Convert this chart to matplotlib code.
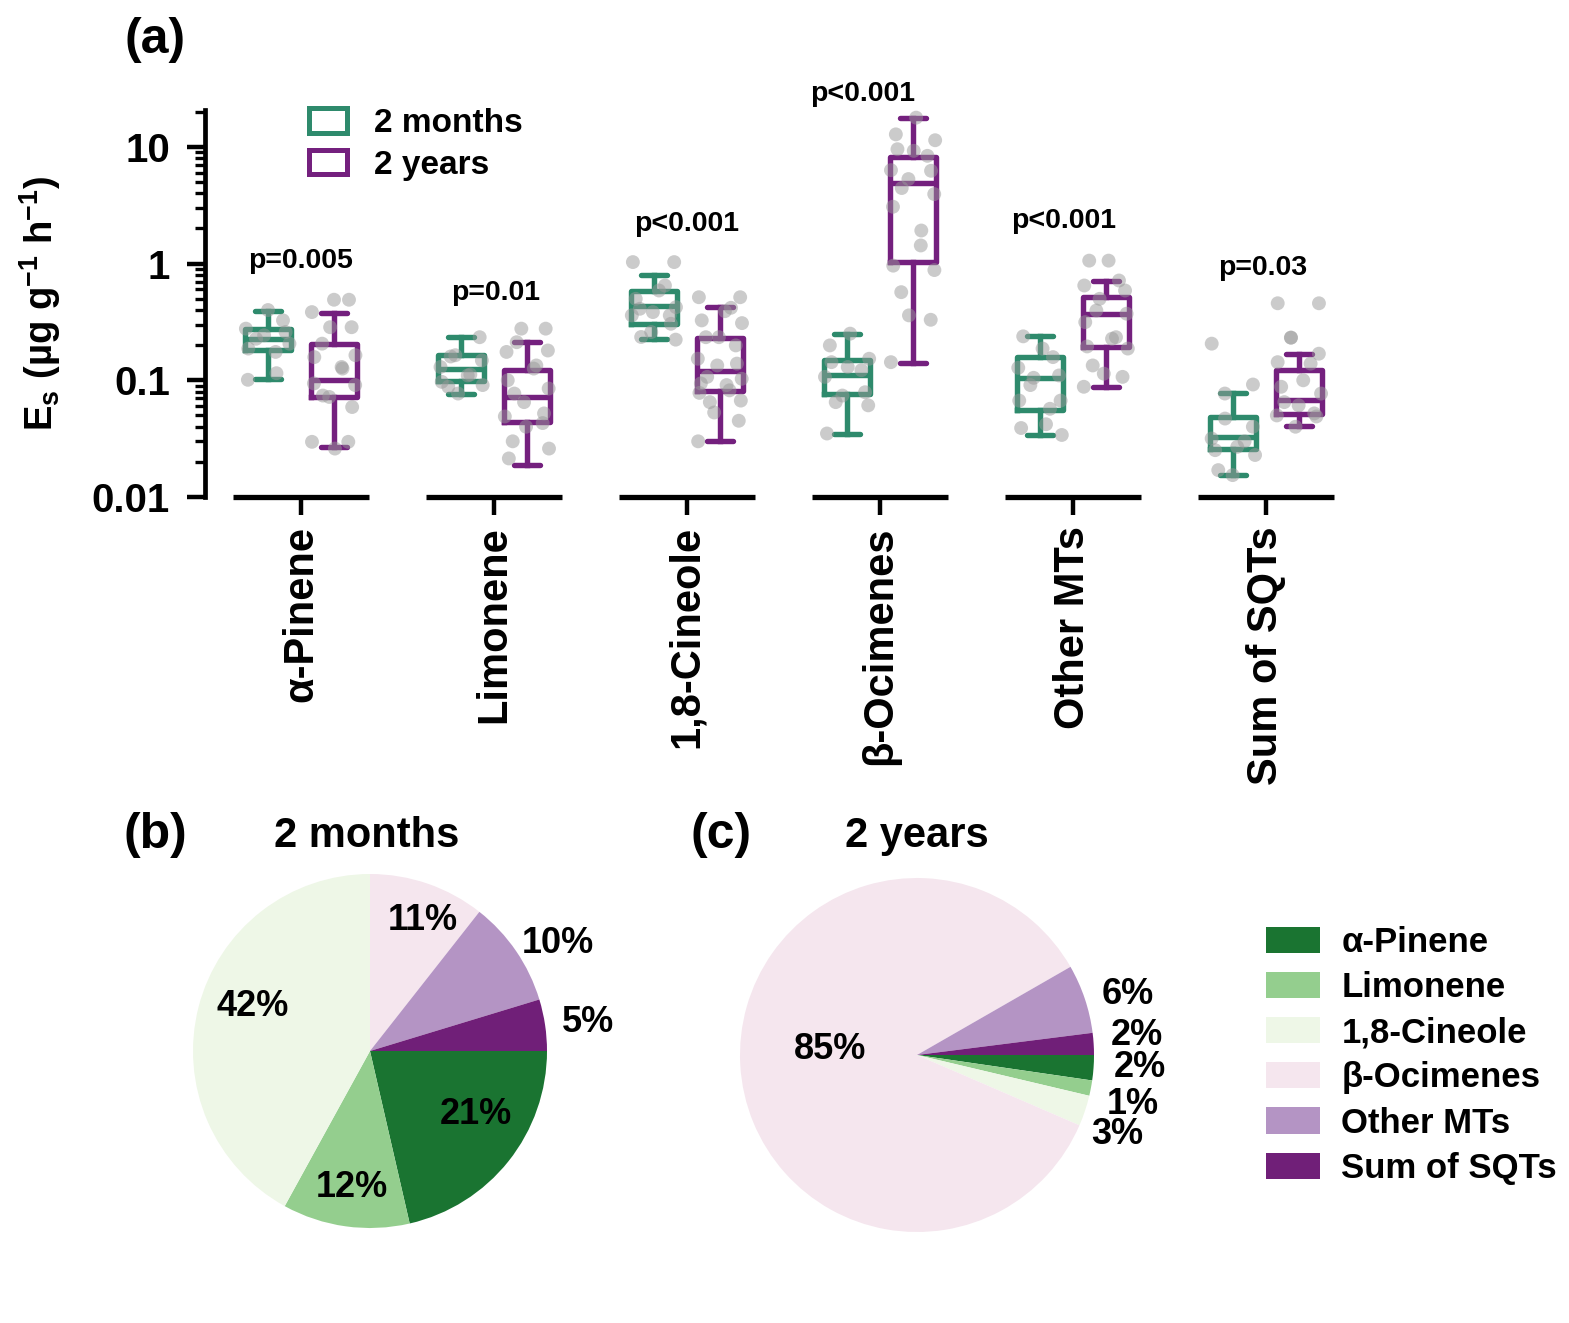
import numpy as np
import matplotlib
matplotlib.use("Agg")
import matplotlib.pyplot as plt
from matplotlib.patches import Patch

plt.rcParams['font.family'] = ['Liberation Sans', 'DejaVu Sans']
plt.rcParams['font.weight'] = 'bold'
plt.rcParams['mathtext.fontset'] = 'custom'
plt.rcParams['mathtext.rm'] = 'Liberation Sans:bold'
plt.rcParams['mathtext.bf'] = 'Liberation Sans:bold'
plt.rcParams['mathtext.it'] = 'Liberation Sans:bold'
plt.rcParams['mathtext.default'] = 'bf'

# ---------------- data ----------------
categories = ["α-Pinene", "Limonene", "1,8-Cineole", "β-Ocimenes", "Other MTs", "Sum of SQTs"]
groups = ["2 months", "2 years"]
p_values = ["p=0.005", "p=0.01", "p<0.001", "p<0.001", "p<0.001", "p=0.03"]

# box statistics: (whisker low, q1, median, q3, whisker high)
stats_2months = [
    (0.103, 0.183, 0.227, 0.277, 0.39),
    (0.077, 0.099, 0.125, 0.164, 0.234),
    (0.227, 0.301, 0.43, 0.587, 0.805),
    (0.0345, 0.077, 0.112, 0.148, 0.247),
    (0.034, 0.0555, 0.105, 0.158, 0.238),
    (0.0154, 0.026, 0.0328, 0.0486, 0.078),
]
stats_2years = [
    (0.027, 0.072, 0.101, 0.203, 0.376),
    (0.0188, 0.044, 0.072, 0.123, 0.212),
    (0.0303, 0.081, 0.120, 0.232, 0.423),
    (0.142, 1.03, 4.95, 8.2, 17.8),
    (0.0877, 0.193, 0.372, 0.515, 0.716),
    (0.0405, 0.0519, 0.0675, 0.123, 0.167),
]

# individual observations (µg g-1 h-1)
pts_apinene_2m = [0.40, 0.326, 0.277, 0.259, 0.243, 0.227, 0.206, 0.187, 0.175, 0.115, 0.101]
pts_apinene_2y = [0.49, 0.49, 0.384, 0.285, 0.285, 0.206, 0.164, 0.158, 0.130, 0.126, 0.094,
                  0.091, 0.074, 0.072, 0.059, 0.0297, 0.0297, 0.026]
pts_limonene_2m = [0.234, 0.164, 0.160, 0.148, 0.130, 0.112, 0.110, 0.097, 0.091, 0.088, 0.077]
pts_limonene_2y = [0.277, 0.277, 0.212, 0.180, 0.175, 0.134, 0.126, 0.100, 0.085, 0.077, 0.065,
                   0.052, 0.049, 0.043, 0.040, 0.030, 0.026, 0.0214]
pts_cineole_2m = [1.03, 1.03, 0.649, 0.588, 0.499, 0.423, 0.410, 0.384, 0.36, 0.36, 0.305,
                  0.259, 0.235, 0.223]
pts_cineole_2y = [0.515, 0.515, 0.418, 0.391, 0.326, 0.309, 0.234, 0.234, 0.199, 0.153, 0.139,
                  0.134, 0.107, 0.103, 0.094, 0.091, 0.082, 0.078, 0.067, 0.065, 0.053, 0.045, 0.030]
pts_ocimene_2m = [0.251, 0.199, 0.153, 0.143, 0.130, 0.122, 0.107, 0.079, 0.074, 0.065, 0.061, 0.035]
pts_ocimene_2y = [17.8, 12.8, 11.4, 9.55, 9.25, 8.38, 6.32, 6.24, 5.30, 4.44, 3.94, 3.07, 1.92,
                  1.43, 0.96, 0.88, 0.569, 0.36, 0.33, 0.143]
pts_othermt_2m = [0.238, 0.187, 0.158, 0.128, 0.110, 0.105, 0.091, 0.067, 0.067, 0.057, 0.042,
                  0.039, 0.034]
pts_othermt_2y = [1.06, 1.06, 0.716, 0.649, 0.588, 0.499, 0.396, 0.372, 0.315, 0.234, 0.227,
                  0.195, 0.187, 0.134, 0.114, 0.107, 0.088]
pts_sqt_2m = [0.206, 0.092, 0.077, 0.047, 0.040, 0.0317, 0.030, 0.0269, 0.0252, 0.0229, 0.017, 0.0154]
pts_sqt_2y = [0.457, 0.457, 0.232, 0.232, 0.169, 0.143, 0.139, 0.100, 0.088, 0.077, 0.065, 0.061,
              0.052, 0.050, 0.049, 0.040]

points_2months = [pts_apinene_2m, pts_limonene_2m, pts_cineole_2m, pts_ocimene_2m, pts_othermt_2m, pts_sqt_2m]
points_2years = [pts_apinene_2y, pts_limonene_2y, pts_cineole_2y, pts_ocimene_2y, pts_othermt_2y, pts_sqt_2y]

# pie shares (%)
pie_2months = [21.4, 11.6, 42.0, 10.6, 9.7, 4.7]
pie_2years = [2.3, 1.4, 2.8, 85.2, 6.3, 2.0]
pie_labels_2months = ["21%", "12%", "42%", "11%", "10%", "5%"]
pie_labels_2years = ["2%", "1%", "3%", "85%", "6%", "2%"]

# ---------------- style ----------------
c_green = "#2E8A6C"
c_purple = "#74207E"
pie_colors = ["#1A7431", "#94CE8E", "#EEF7E7", "#F5E6EE", "#B494C4", "#701F78"]
W, H = 1569, 1323

fig = plt.figure(figsize=(W / 100, H / 100), dpi=100)

# ---------------- panel (a) ----------------
ax = fig.add_axes([204.5 / W, 1 - 497 / H, 1158 / W, 387 / H])
ax.set_yscale('log')
ax.set_ylim(0.01, 20.7)
ax.set_xlim(-0.5, len(categories) - 0.5)

x = np.arange(len(categories))
off = 0.171
bw = 0.24
lw = 3.9


def to_bxp(st):
    return [dict(whislo=s[0], q1=s[1], med=s[2], q3=s[3], whishi=s[4], fliers=[]) for s in st]


for st, pos, col in [(stats_2months, x - off, c_green), (stats_2years, x + off, c_purple)]:
    ax.bxp(to_bxp(st), positions=pos, widths=bw, capwidths=bw * 0.55, showfliers=False,
           boxprops=dict(color=col, linewidth=lw, solid_joinstyle='round'),
           whiskerprops=dict(color=col, linewidth=lw),
           capprops=dict(color=col, linewidth=lw, solid_capstyle='round'),
           medianprops=dict(color=col, linewidth=lw),
           manage_ticks=False, zorder=2)

for pts_list, sign in [(points_2months, -1), (points_2years, 1)]:
    for i, pts in enumerate(pts_list):
        n = len(pts)
        jit = 0.115 * np.sin(np.arange(n) * 2.39996 + i)
        ax.scatter(i + sign * off + jit, pts, s=100, color='#999999', alpha=0.5,
                   edgecolors='none', zorder=3)

# axes styling
for sp in ['top', 'right', 'bottom']:
    ax.spines[sp].set_visible(False)
ax.spines['left'].set_linewidth(3.4)
ax.tick_params(axis='y', which='major', length=13, width=3.2, labelsize=29, pad=12)
ax.tick_params(axis='y', which='minor', length=7, width=2.4)
ax.set_yticks([0.01, 0.1, 1, 10])
ax.set_yticklabels(["0.01", "0.1", "1", "10"])
for t in ax.get_yticklabels():
    t.set_fontweight('bold')
ax.set_xticks(x)
ax.set_xticklabels(categories, rotation=90, fontsize=30, fontweight='bold')
ax.tick_params(axis='x', length=13, width=3.2, pad=8)
for xi in x:
    ax.plot([xi - 0.35, xi + 0.35], [0.01, 0.01], color='black', lw=3.8,
            solid_capstyle='butt', clip_on=False, zorder=4)

ax.set_ylabel("E$_{s}$ (µg g$^{-1}$ h$^{-1}$)", fontsize=27.5, fontweight='bold')
ax.yaxis.set_label_coords(-0.122, 0.5)

p_dx = [0.0, 0.01, 0.0, -0.09, -0.05, -0.015]
p_y = [1.06, 0.555, 2.2, 28.4, 2.33, 0.925]
for i, (lab, dx, yv) in enumerate(zip(p_values, p_dx, p_y)):
    ax.text(i + dx, yv, lab, ha='center', va='center', fontsize=20.5, fontweight='bold', clip_on=False)

leg = ax.legend(handles=[Patch(facecolor='white', edgecolor=c_green, linewidth=3.6, joinstyle='round'),
                         Patch(facecolor='white', edgecolor=c_purple, linewidth=3.6, joinstyle='round')],
                labels=groups, loc='upper left', bbox_to_anchor=((309 - 204.5) / 1158, (497 - 108) / 387),
                frameon=False, fontsize=24, handlelength=1.15, handleheight=0.75,
                handletextpad=0.8, labelspacing=0.32, borderpad=0, borderaxespad=0)
for t in leg.get_texts():
    t.set_fontweight('bold')

fig.text(155 / W, 1 - 40 / H, "(a)", ha='center', va='center', fontsize=36, fontweight='bold')

# ---------------- pies ----------------
R = 177
pie_specs = [
    (370, 1051, pie_2months, pie_labels_2months,
     [(0.60, -0.36), (-0.10, -0.77), (-0.66, 0.25), (0.30, 0.74), (1.06, 0.61), (1.23, 0.16)]),
    (917, 1055, pie_2years, pie_labels_2years,
     [(1.26, -0.07), (1.22, -0.28), (1.13, -0.45), (-0.49, 0.03), (1.19, 0.34), (1.24, 0.11)]),
]
for cx, cy, vals, labs, lpos in pie_specs:
    pax = fig.add_axes([(cx - R) / W, 1 - (cy + R) / H, 2 * R / W, 2 * R / H])
    pax.pie(vals, colors=pie_colors, startangle=0, counterclock=False,
            wedgeprops=dict(linewidth=0))
    pax.set_xlim(-1, 1)
    pax.set_ylim(-1, 1)
    pax.set_aspect('equal')
    for lab, (lx, ly) in zip(labs, lpos):
        pax.text(lx, ly, lab, ha='center', va='center', fontsize=26, fontweight='bold', clip_on=False)

fig.text(155 / W, 1 - 835 / H, "(b)", ha='center', va='center', fontsize=36, fontweight='bold')
fig.text(367 / W, 1 - 836 / H, "2 months", ha='center', va='center', fontsize=30, fontweight='bold')
fig.text(721 / W, 1 - 835 / H, "(c)", ha='center', va='center', fontsize=36, fontweight='bold')
fig.text(917 / W, 1 - 836 / H, "2 years", ha='center', va='center', fontsize=30, fontweight='bold')

leg2 = fig.legend(handles=[Patch(facecolor=c, edgecolor='none') for c in pie_colors],
                  labels=categories, loc='upper left', bbox_to_anchor=(1266 / W, 1 - 926 / H),
                  frameon=False, fontsize=25, handlelength=1.55, handleheight=0.78,
                  handletextpad=0.62, labelspacing=0.35, borderpad=0, borderaxespad=0)
for t in leg2.get_texts():
    t.set_fontweight('bold')

fig.savefig("out.png", dpi=100)
